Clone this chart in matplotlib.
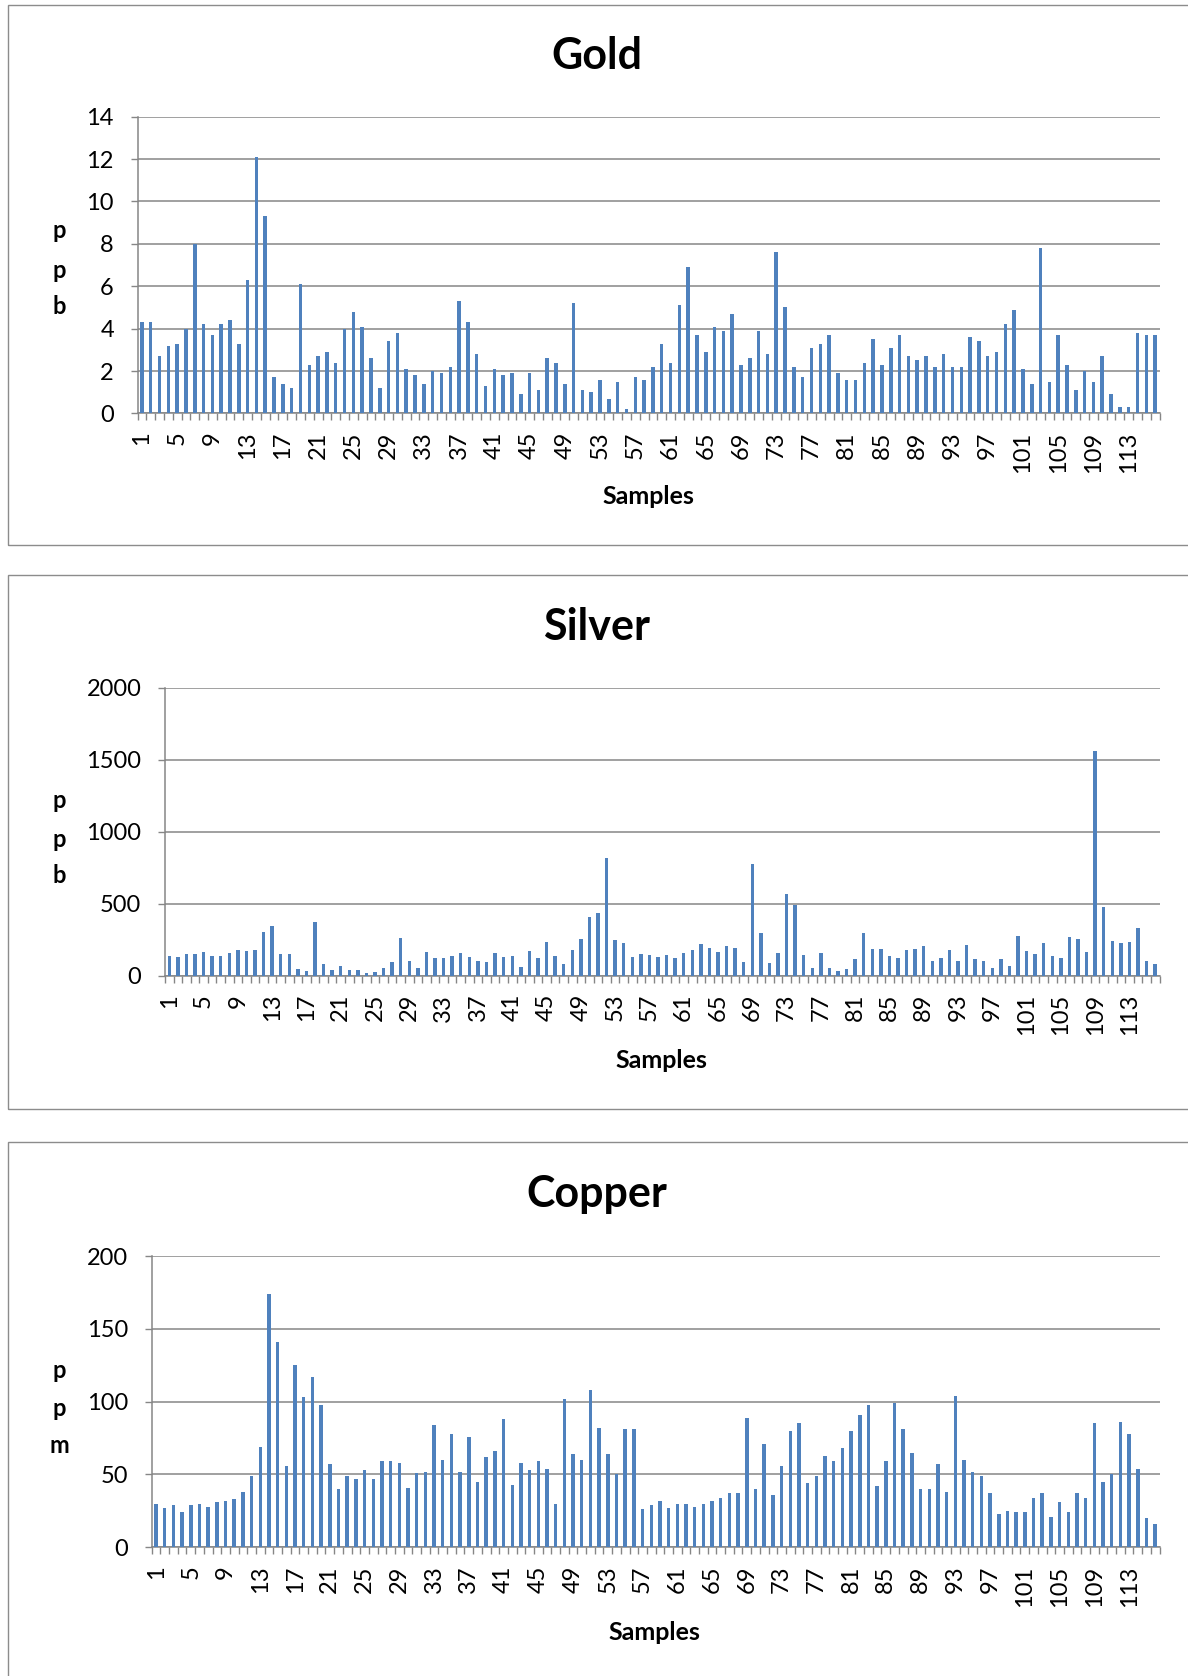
import matplotlib
matplotlib.use("Agg")
import matplotlib.pyplot as plt
import matplotlib.patches as patches
import numpy as np

#____________________________________________________________________________________________________
# data

samples = list(range(1, 117))

gold_ppb = [4.3, 4.3, 2.7, 3.2, 3.3, 4.0, 8.0, 4.2, 3.7, 4.2,
            4.4, 3.3, 6.3, 12.1, 9.3, 1.7, 1.4, 1.2, 6.1, 2.3,
            2.7, 2.9, 2.4, 4.0, 4.8, 4.1, 2.6, 1.2, 3.4, 3.8,
            2.1, 1.8, 1.4, 2.0, 1.9, 2.2, 5.3, 4.3, 2.8, 1.3,
            2.1, 1.8, 1.9, 0.9, 1.9, 1.1, 2.6, 2.4, 1.4, 5.2,
            1.1, 1.0, 1.6, 0.7, 1.5, 0.2, 1.7, 1.6, 2.2, 3.3,
            2.4, 5.1, 6.9, 3.7, 2.9, 4.1, 3.9, 4.7, 2.3, 2.6,
            3.9, 2.8, 7.6, 5.0, 2.2, 1.7, 3.1, 3.3, 3.7, 1.9,
            1.6, 1.6, 2.4, 3.5, 2.3, 3.1, 3.7, 2.7, 2.5, 2.7,
            2.2, 2.8, 2.2, 2.2, 3.6, 3.4, 2.7, 2.9, 4.2, 4.9,
            2.1, 1.4, 7.8, 1.5, 3.7, 2.3, 1.1, 2.0, 1.5, 2.7,
            0.9, 0.3, 0.3, 3.8, 3.7, 3.7]

silver_ppb = [140, 130, 150, 150, 165, 140, 140, 155, 178, 171,
              176, 306, 345, 150, 150, 46, 32, 373, 83, 42,
              69, 39, 39, 16, 23, 51, 97, 262, 100, 53,
              162, 125, 125, 139, 155, 130, 102, 93, 157, 132,
              134, 58, 169, 123, 234, 134, 83, 176, 255, 407,
              438, 817, 245, 229, 130, 153, 141, 130, 141, 120,
              157, 176, 218, 190, 167, 208, 190, 93, 776, 299,
              90, 157, 565, 493, 144, 53, 160, 56, 30, 44,
              116, 294, 183, 185, 137, 125, 178, 185, 208, 102,
              123, 178, 100, 211, 116, 102, 53, 116, 65, 275,
              169, 150, 227, 137, 120, 271, 255, 164, 1560, 479,
              238, 225, 236, 331, 104, 83]

copper_ppm = [30, 27, 29, 24, 29, 30, 28, 31, 32, 33,
              38, 49, 69, 174, 141, 56, 125, 103, 117, 98,
              57, 40, 49, 47, 53, 47, 59, 59, 58, 41,
              51, 52, 84, 60, 78, 52, 76, 45, 62, 66,
              88, 43, 58, 53, 59, 54, 30, 102, 64, 60,
              108, 82, 64, 50, 81, 81, 26, 29, 32, 27,
              30, 30, 28, 30, 32, 34, 37, 37, 89, 40,
              71, 36, 56, 80, 85, 44, 49, 63, 59, 68,
              80, 91, 98, 42, 59, 99, 81, 65, 40, 40,
              57, 38, 104, 60, 52, 49, 37, 23, 25, 24,
              24, 34, 37, 21, 31, 24, 37, 34, 85, 45,
              50, 86, 78, 54, 20, 16]

gold_ticks = [0, 2, 4, 6, 8, 10, 12, 14]
silver_ticks = [0, 500, 1000, 1500, 2000]
copper_ticks = [0, 50, 100, 150, 200]

#____________________________________________________________________________________________________
# set ups

W, H = 1188, 1676
BAR_BLUE = "#4F81BD"
GREY = "#868686"

plt.rcParams['font.family'] = ['Lato', 'DejaVu Sans']


def fx(x):
    return x / W


def fy(y):
    return 1 - y / H


def draw_panel(fig, frame, plot_box, values, yticks, title, unit, title_y, unit_ys, xlabel_xy):
    '''
    frame    : (top, bottom) of the grey chart border in pixels
    plot_box : (left, top, right, bottom) of the plot area in pixels
    '''
    # grey frame around the chart, right side runs off the page like the original
    top, bottom = frame
    fig.patches.append(patches.Rectangle((fx(7.5), fy(bottom)), fx(1300), (bottom - top) / H,
                                         transform=fig.transFigure, fill=False,
                                         edgecolor="#8C8C8C", linewidth=1.0))

    left, ptop, right, pbottom = plot_box
    ax = fig.add_axes([fx(left), fy(pbottom), (right - left) / W, (pbottom - ptop) / H])

    x = np.arange(len(values))
    ax.bar(x, values, width=0.4, color=BAR_BLUE, zorder=3)

    ax.set_xlim(-0.5, len(values) - 0.5)
    ax.set_ylim(yticks[0], yticks[-1])

    # y axis
    ax.set_yticks(yticks)
    ax.tick_params(axis='y', length=5, width=1.0, color=GREY, pad=12, labelsize=17)
    ax.yaxis.grid(True, color=GREY, linewidth=1.1, zorder=0)
    ax.set_axisbelow(True)

    # x axis: small marks between categories, labels on every 4th sample
    ax.set_xticks(np.arange(-0.5, len(values), 1.0))
    ax.set_xticklabels([])
    ax.tick_params(axis='x', which='major', length=5, width=1.0, color=GREY)
    lab_pos = x[::4]
    ax.set_xticks(lab_pos, labels=[str(samples[i]) for i in lab_pos], minor=True)
    ax.tick_params(axis='x', which='minor', length=0, pad=13, labelsize=17, labelrotation=90)

    for side in ['top', 'right']:
        ax.spines[side].set_visible(False)
    for side in ['left', 'bottom']:
        ax.spines[side].set_color(GREY)
        ax.spines[side].set_linewidth(1.1)

    fig.text(fx(597), fy(title_y), title, ha='center', va='center',
             fontsize=31, fontweight='bold')
    for ch, uy in zip(unit, unit_ys):
        fig.text(fx(59), fy(uy), ch, ha='center', va='center',
                 fontsize=17, fontweight='bold')
    fig.text(fx(xlabel_xy[0]), fy(xlabel_xy[1]), "Samples", ha='center', va='center',
             fontsize=18, fontweight='bold')
    return ax


def main():
    fig = plt.figure(figsize=(W / 100, H / 100), dpi=100)
    fig.patch.set_facecolor('white')

    draw_panel(fig, (5.3, 545.3), (137.5, 116.7, 1159.5, 413.5), gold_ppb, gold_ticks,
               "Gold", "ppb", 55.6, [231, 270, 307], (648, 497))
    draw_panel(fig, (575.3, 1109.0), (165.0, 687.7, 1159.5, 975.7), silver_ppb, silver_ticks,
               "Silver", "ppb", 626.6, [800, 839, 875], (661, 1060))
    draw_panel(fig, (1142.0, 1700.0), (151.7, 1256.0, 1159.5, 1547.3), copper_ppm, copper_ticks,
               "Copper", "ppm", 1194.4, [1370, 1408, 1445], (654, 1632))

    fig.savefig("out.png", dpi=100)


#____________________________________________________________________________________________________
# main
if __name__ == "__main__":
    main()
